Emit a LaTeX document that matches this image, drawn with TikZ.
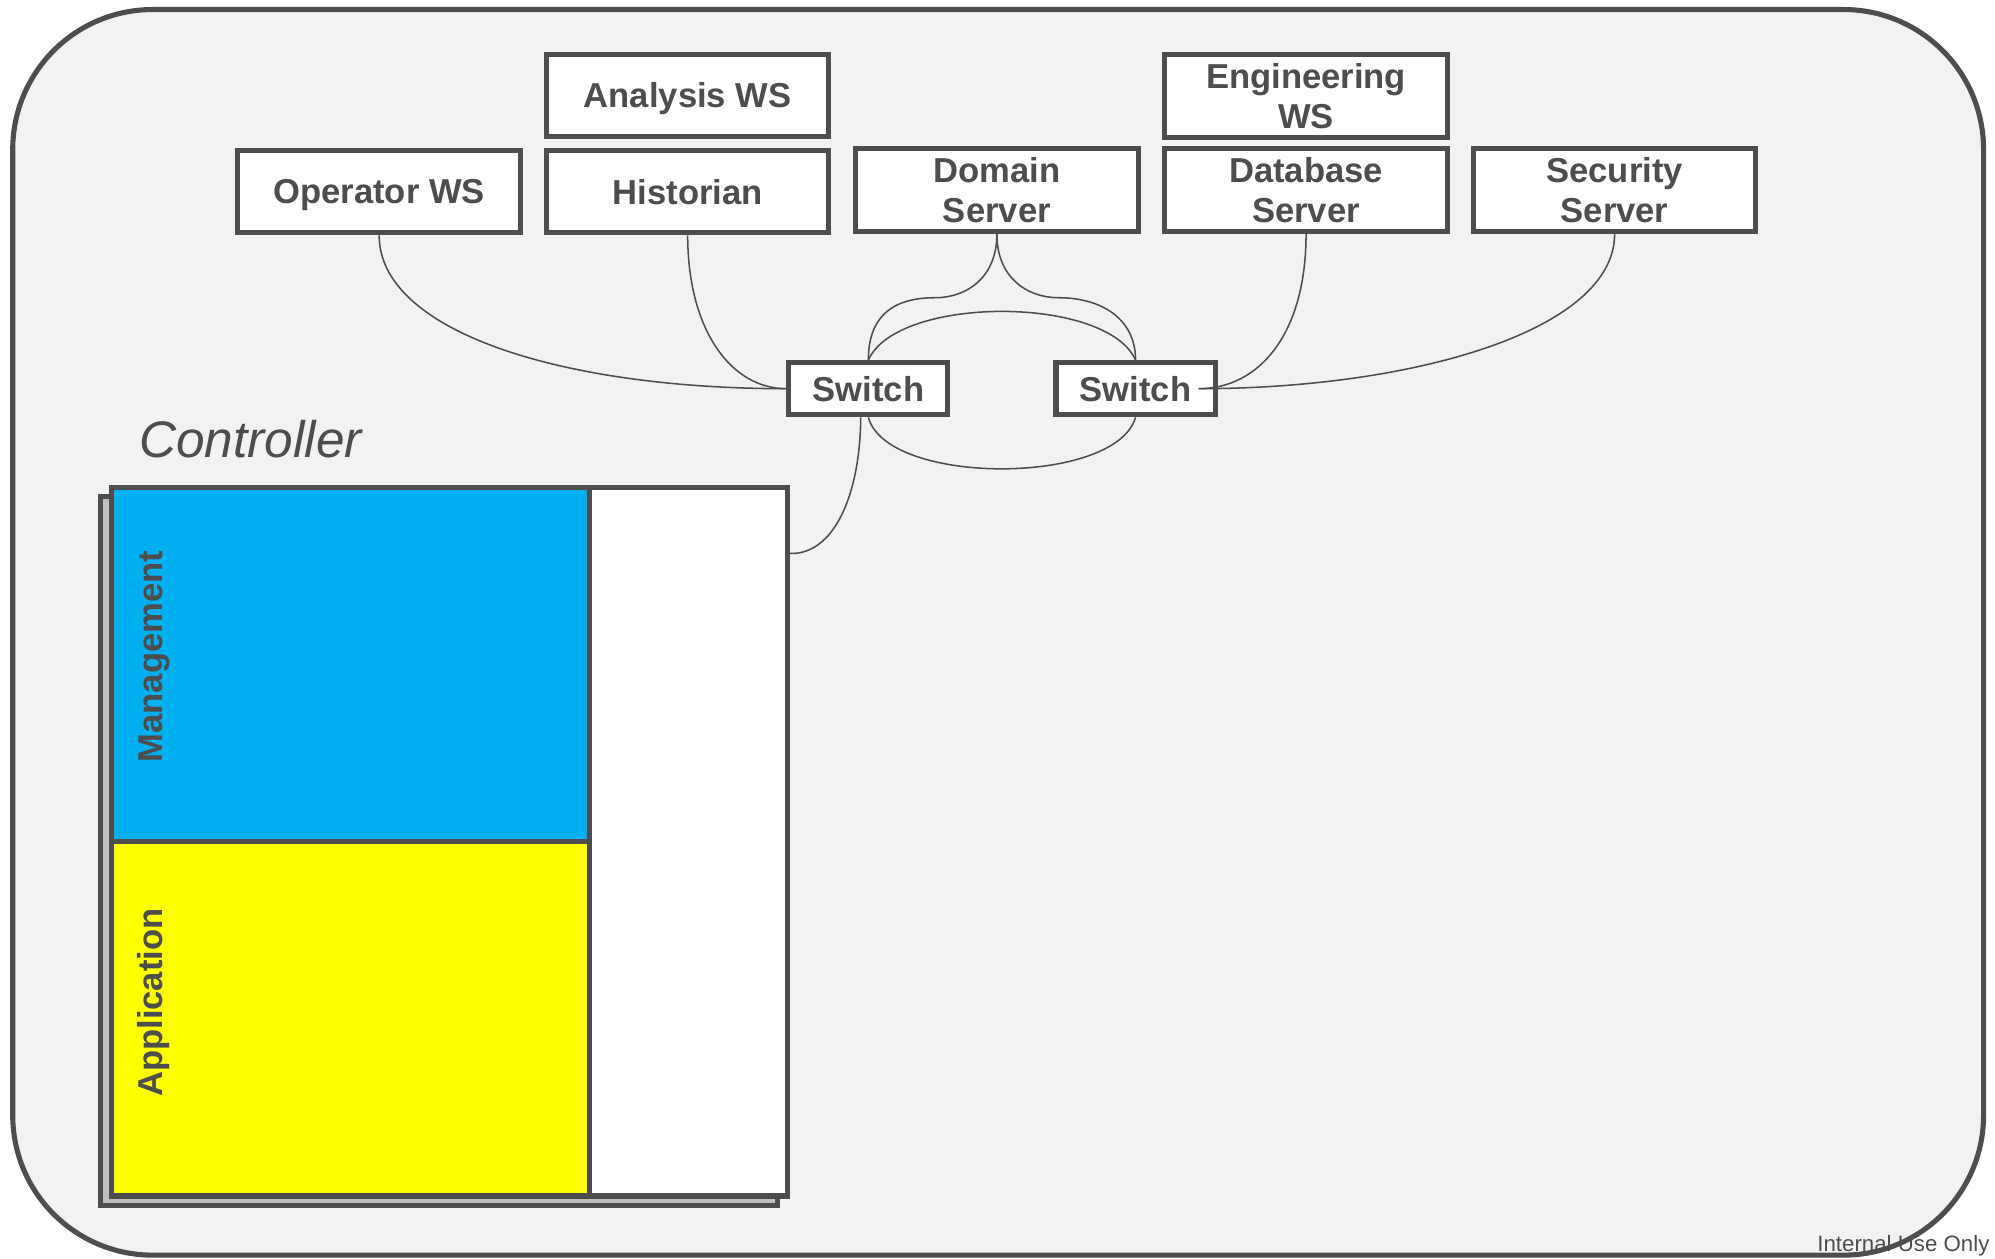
\documentclass[tikz,border=0pt]{standalone}
\usepackage{fontspec}
\setmainfont{Liberation Sans}
\definecolor{ink}{RGB}{77,77,77}
\definecolor{bgfill}{RGB}{242,242,242}
\definecolor{shadowgray}{RGB}{191,191,191}
\definecolor{mgmtblue}{RGB}{0,176,240}
\definecolor{appyellow}{RGB}{255,255,0}
\begin{document}
\begin{tikzpicture}[x=0.5pt,y=-0.5pt,
  heavy/.style={draw=ink, line width=2pt},
  box/.style={heavy, fill=white, minimum width=111pt, minimum height=32.5pt,
    inner sep=0pt, text=ink, align=center,
    font=\fontsize{13.6}{15.75}\selectfont\bfseries},
  oneline/.style={box, text depth=0pt},
  switchbox/.style={oneline, minimum width=62.5pt, minimum height=20.5pt},
  panel/.style={heavy, inner sep=0pt},
  vlabel/.style={rotate=90, inner sep=0pt, text=ink,
    font=\fontsize{13.6}{15.75}\selectfont\bfseries},
  wire/.style={draw=ink, line width=0.6pt}]

\useasboundingbox (0,0) rectangle (1568,989);
\clip (0,0) rectangle (1568,989);

% plant network frame
\draw[heavy, fill=bgfill, rounded corners=55pt] (10,7.5) rectangle (1559,986.5);

% controller: back plate, body and its two sections
\draw[heavy, fill=shadowgray] (79,390.5) rectangle (611,947.5);
\node[panel, fill=white, minimum width=265.75pt, minimum height=278.5pt] (ctrl) at (353.25,661.5) {};
\node[panel, fill=mgmtblue, minimum width=187.75pt, minimum height=139.25pt] (mgmt) at (275.25,522.25) {};
\node[panel, fill=appyellow, minimum width=187.75pt, minimum height=139.25pt] (app) at (275.25,800.75) {};
\node[vlabel] (mgmtlbl) at (121,516) {Management};
\node[vlabel] (applbl) at (121,788) {Application};
\node[anchor=base west, inner sep=0pt, text=ink,
  font=\fontsize{20.2}{24}\selectfont\itshape] (ctrllbl) at (109,359.5) {Controller};

% workstations and servers
\node[oneline] (op)  at (298,150.5)    {Operator WS};
\node[oneline] (ana) at (540.5,75)     {Analysis WS};
\node[oneline] (his) at (540.5,150.5)  {Historian};
\node[box]     (dom) at (783.5,149.5)  {Domain\\Server};
\node[box]     (eng) at (1026.5,75.5)  {Engineering\\WS};
\node[box]     (db)  at (1026.5,149.5) {Database\\Server};
\node[box]     (sec) at (1269,149.5)   {Security\\Server};

% switches
\node[switchbox] (sw1) at (682.5,305.5) {Switch};
\node[switchbox] (sw2) at (892.5,305.5) {Switch};

% cabling
\coordinate (domL) at (735,234);
\coordinate (domR) at (832,234);
\coordinate (sw1out) at ([xshift=-3pt]sw1.south);
\coordinate (sw2in) at ([xshift=-7.5pt]sw2.east);
\coordinate (ctrlin) at ([yshift=-27pt]ctrl.north east);

\draw[wire] (op.south) .. controls (298,260) and (440,305.5) .. (sw1.west);
\draw[wire] (his.south) .. controls (540.5,260) and (575,305.5) .. (sw1.west);
\draw[wire] (dom.south) .. controls (783.5,218) and (760,234) .. (domL)
  .. controls (700,234) and (682.5,250) .. (sw1.north);
\draw[wire] (dom.south) .. controls (783.5,218) and (807,234) .. (domR)
  .. controls (865,234) and (892.5,250) .. (sw2.north);
\draw[wire] (sw1.north) .. controls (705,232) and (870,232) .. (sw2.north);
\draw[wire] (sw1.south) .. controls (697,382) and (877,382) .. (sw2.south);
\draw[wire] (sw1out) .. controls (676,390) and (655,436) .. (ctrlin);
\draw[wire] (db.south) .. controls (1026.5,262) and (990,305.5) .. (sw2in);
\draw[wire] (sec.south) .. controls (1269,260) and (1110,305.5) .. (sw2in);

% classification footer
\node[anchor=base east, inner sep=0pt, text=ink,
  font=\fontsize{8.75}{10}\selectfont] (usage) at (1564,984) {Internal Use Only};
\end{tikzpicture}
\end{document}
